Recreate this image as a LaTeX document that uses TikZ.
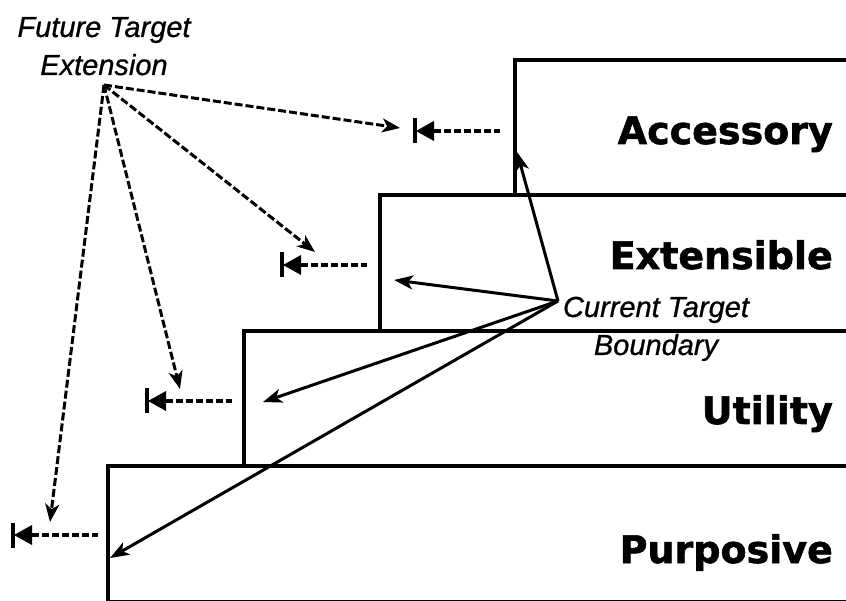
\documentclass[tikz,border=0pt]{standalone}
\usepackage{fontspec}
\setmainfont{Liberation Sans}[ItalicFeatures={FakeBold=0.8}]
\newfontfamily\heavyfont{DejaVu Sans}[BoldFeatures={FakeBold=1.5}]
\usetikzlibrary{arrows.meta}
\begin{document}
\begin{tikzpicture}[x=1pt,y=-1pt,
  box/.style={draw, line width=4.5pt, inner sep=0pt, outer sep=0pt, anchor=north west},
  lab/.style={font=\heavyfont\bfseries\fontsize{38}{40}\selectfont, inner sep=0pt, anchor=base east},
  callout/.style={font=\itshape\fontsize{29}{38}\selectfont, align=center, inner sep=0pt},
  futarrow/.style={line width=3pt, dash pattern=on 8pt off 3pt, -{Stealth[length=18pt,width=14pt,inset=5pt]}},
  curarrow/.style={line width=3pt, -{Stealth[length=19pt,width=14pt,inset=5pt]}},
  stopmark/.pic={
    \draw[line width=4.5pt] (0,-12.5) -- (0,12.5);
    \fill (1,0) -- (19,-10) -- (19,10) -- cycle;
    \draw[line width=3.8pt, dash pattern=on 7pt off 3pt] (19,0) -- (85,0);
  }]
\useasboundingbox (0,0) rectangle (846,601);
% steps
\node[box, minimum width=355pt, minimum height=135pt] (acc) at (515,60) {};
\node[box, minimum width=490pt, minimum height=136pt] (ext) at (380,195) {};
\node[box, minimum width=626pt, minimum height=135pt] (uti) at (244,331) {};
\node[box, minimum width=762pt, minimum height=136.5pt] (pur) at (108,466) {};
% labels
\node[lab] (acct) at (833,144) {Accessory};
\node[lab] (extt) at (833,269) {Extensible};
\node[lab] (utit) at (833,424) {Utility};
\node[lab] (purt) at (833,563) {Purposive};
% callouts
\node[callout, anchor=base] (fte) at (104,75) {Future Target\\Extension};
\node[callout, anchor=base] (ctb) at (656,355) {Current Target\\Boundary};
\coordinate (fto) at (104,85);
\coordinate (cto) at (558,301);
% markers
\pic at (415,131) {stopmark};
\pic at (282,265) {stopmark};
\pic at (147,401) {stopmark};
\pic at (13,535) {stopmark};
% future target arrows
\coordinate (f1) at (400,128);
\coordinate (f2) at (315,252);
\coordinate (f3) at (180,389);
\coordinate (f4) at (50,522);
\draw[futarrow] (fto) -- (f1);
\draw[futarrow] (fto) -- (f2);
\draw[futarrow] (fto) -- (f3);
\draw[futarrow] (fto) -- (f4);
% current target arrows
\coordinate (c1) at (517,152);
\coordinate (c2) at (394,280);
\coordinate (c3) at (263,402);
\coordinate (c4) at (110,558);
\draw[curarrow] (cto) -- (c1);
\draw[curarrow] (cto) -- (c2);
\draw[curarrow] (cto) -- (c3);
\draw[curarrow] (cto) -- (c4);
\end{tikzpicture}
\end{document}
